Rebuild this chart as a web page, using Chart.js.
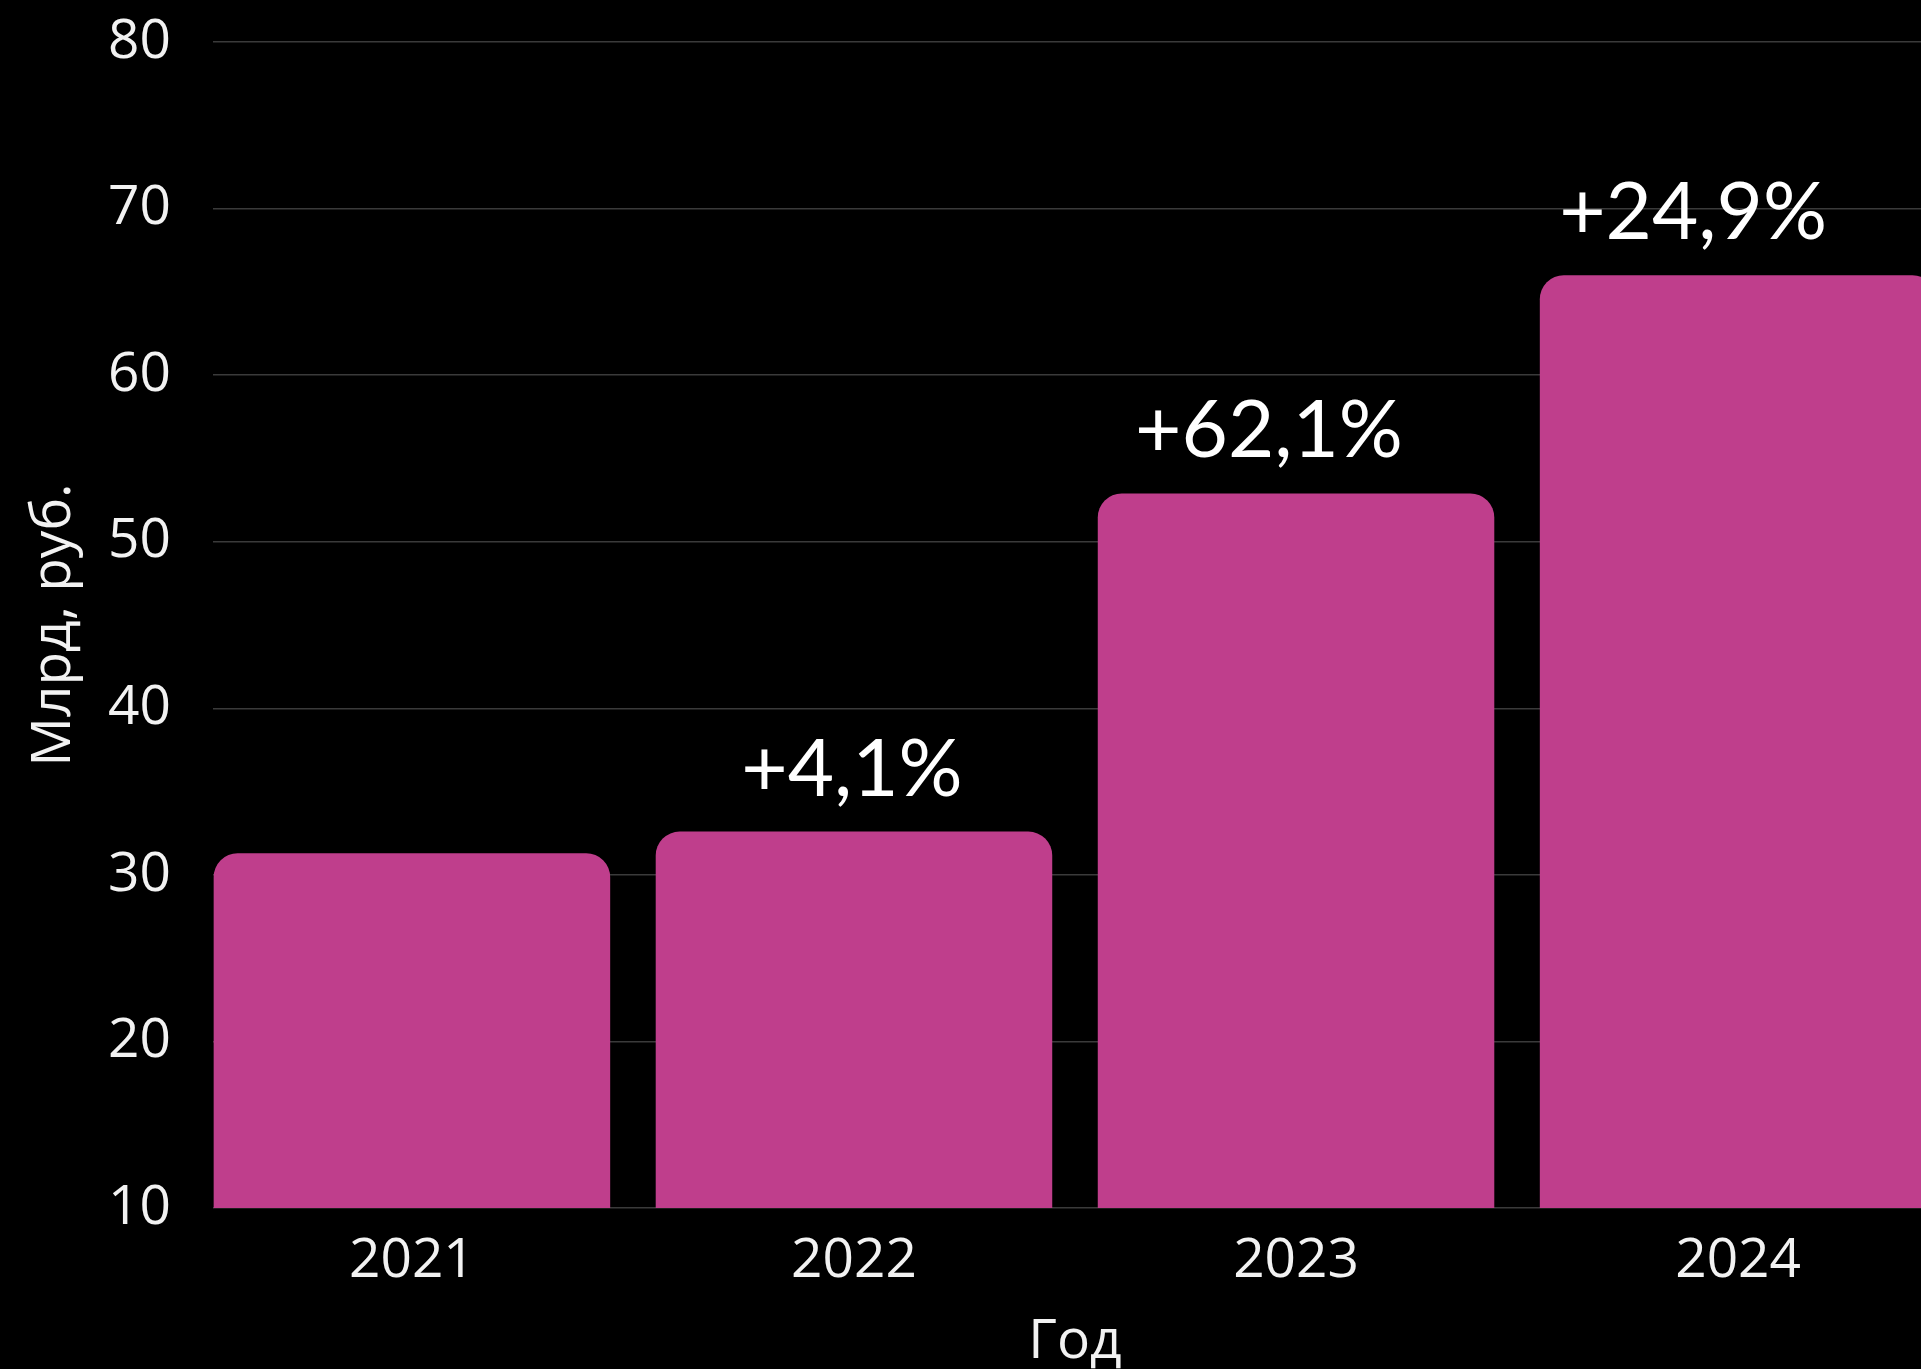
<!DOCTYPE html>
<html>
<head>
<meta charset="utf-8">
<script src="https://cdn.jsdelivr.net/npm/chart.js@4.4.1/dist/chart.umd.min.js"></script>
<style>
  html, body { margin: 0; padding: 0; background: #000; overflow: hidden; }
  #wrap { position: absolute; left: 0; top: 0; width: 1940px; height: 1400px; }
</style>
</head>
<body>
<div id="wrap"><canvas id="c" width="1940" height="1400"></canvas></div>
<script>
// ---- data ----
const categories = ['2021', '2022', '2023', '2024'];
const values = [31.3, 32.6, 52.9, 66.0];
const growthLabels = ['', '+4,1%', '+62,1%', '+24,9%'];
const yTicks = [10, 20, 30, 40, 50, 60, 70, 80];
const yTitle = 'Млрд, руб.';
const xTitle = 'Год';

// ---- style ----
const BAR_COLOR = '#BF3E8C';
const TEXT_COLOR = '#F2F2F2';
const GRID_COLOR = '#3a3a3a';
const labelDx = [0, -2, -27, -45]; // horizontal nudges of growth labels

const growthPlugin = {
  id: 'growth',
  afterDatasetsDraw(chart) {
    const ctx = chart.ctx;
    const meta = chart.getDatasetMeta(0);
    ctx.save();
    ctx.font = '80px Lato';
    ctx.fillStyle = '#FFFFFF';
    ctx.textAlign = 'center';
    ctx.textBaseline = 'alphabetic';
    meta.data.forEach((bar, i) => {
      const t = growthLabels[i];
      if (!t) return;
      ctx.fillText(t, bar.x + labelDx[i], bar.y - 36);
    });
    ctx.restore();
  }
};

const points = categories.map((c, i) => ({ x: i, y: values[i] }));

new Chart(document.getElementById('c'), {
  type: 'bar',
  data: {
    datasets: [{
      data: points,
      backgroundColor: BAR_COLOR,
      borderWidth: 0,
      borderRadius: 24,
      borderSkipped: 'start',
      categoryPercentage: 1.0,
      barPercentage: 0.897
    }]
  },
  plugins: [growthPlugin],
  options: {
    responsive: false,
    animation: false,
    layout: { padding: { left: 2, top: 42, right: 3, bottom: 0 } },
    plugins: { legend: { display: false }, tooltip: { enabled: false } },
    scales: {
      x: {
        type: 'linear',
        min: -0.45,
        max: 3.45,
        offset: false,
        grid: { display: false, drawTicks: false },
        border: { display: false },
        ticks: {
          stepSize: 1,
          includeBounds: false,
          autoSkip: false,
          maxRotation: 0,
          padding: 20,
          color: TEXT_COLOR,
          font: { family: 'Open Sans', size: 55 },
          callback: (v) => (Number.isInteger(v) && categories[v] !== undefined) ? categories[v] : ''
        },
        title: {
          display: true,
          text: xTitle,
          color: TEXT_COLOR,
          font: { family: 'Open Sans', size: 55 },
          padding: { top: 0, bottom: 25 }
        },
        afterFit(scale) { scale.height = 1400 - 1208; }
      },
      y: {
        min: 10,
        max: 80,
        afterBuildTicks(scale) { scale.ticks = yTicks.map(v => ({ value: v })); },
        grid: { color: GRID_COLOR, lineWidth: 1.5, drawTicks: true, tickLength: 40, tickColor: 'rgba(0,0,0,0)' },
        border: { display: false },
        ticks: {
          padding: 2,
          color: TEXT_COLOR,
          font: { family: 'Open Sans', size: 55 }
        },
        title: {
          display: true,
          text: yTitle,
          color: TEXT_COLOR,
          font: { family: 'Open Sans', size: 55 },
          padding: { top: 19, bottom: 0 }
        },
        afterFit(scale) { scale.width = 213 - 2; }
      }
    }
  }
});
</script>
</body>
</html>
